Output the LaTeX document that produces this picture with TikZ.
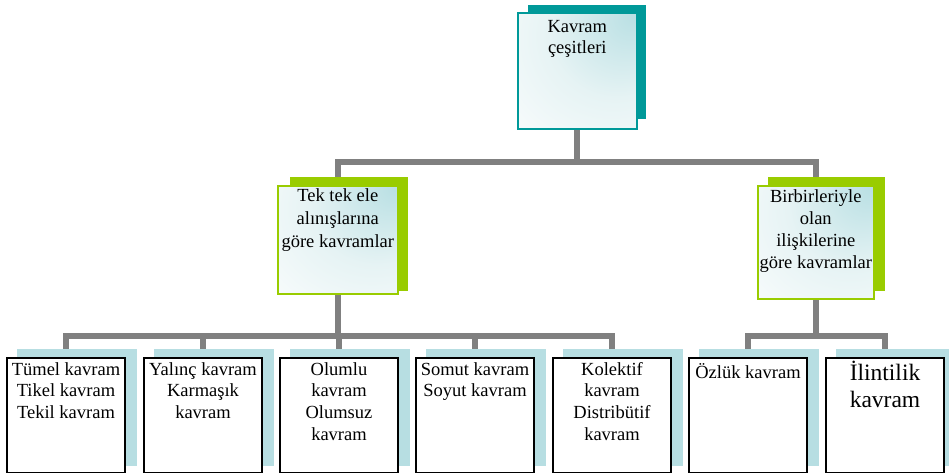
\documentclass[tikz,border=0pt]{standalone}
\usepackage{fontspec}
\setmainfont{Liberation Serif}
\definecolor{tealc}{RGB}{0,153,153}
\definecolor{greenc}{RGB}{153,204,0}
\definecolor{leafsh}{RGB}{183,222,226}
\definecolor{gradblue}{RGB}{184,223,227}
\definecolor{gradmid}{RGB}{230,243,244}
\definecolor{connc}{RGB}{128,128,128}
\pgfdeclareradialshading{cornerblue}{\pgfpoint{25bp}{25bp}}{color(0bp)=(gradblue); color(28bp)=(gradmid); color(60bp)=(white); color(80bp)=(white)}
\pgfdeclarelayer{bg}
\pgfdeclarelayer{sh}
\pgfsetlayers{bg,sh,main}
\newcommand{\firstln}{\rule{0pt}{16pt}}
\begin{document}
\begin{tikzpicture}[x=1pt,y=-1pt,
  box/.style={rectangle, inner sep=0pt, anchor=north west},
  grad/.style={shading=cornerblue},
  topbox/.style={box, grad, draw=tealc, line width=1.6pt},
  midbox/.style={box, grad, draw=greenc, line width=1.6pt},
  leafbox/.style={box, fill=white, draw=black, line width=2pt, minimum width=118pt, minimum height=115pt},
  txt/.style={anchor=north, inner sep=0pt, align=center, font=\fontsize{18.5}{21.7}\selectfont},
  conn/.style={draw=connc, line width=6pt},
]
\useasboundingbox (0,0) rectangle (949,473);

% boxes
\node[topbox, minimum width=119pt, minimum height=116pt] (top) at (517,12) {};
\node[midbox, minimum width=120pt, minimum height=108pt] (tek) at (277,185) {};
\node[midbox, minimum width=116pt, minimum height=113pt] (bir) at (757,185) {};
\foreach \i/\x in {1/6,2/143,3/279,4/415,5/552,6/688,7/825} {
  \node[leafbox] (l\i) at (\x,357) {};
}

% shadows
\begin{pgfonlayer}{sh}
\fill[tealc] (528,5) rectangle (646,119);
\fill[greenc] (290,177) rectangle (408,291);
\fill[greenc] (768,177) rectangle (885,291);
\foreach \i in {1,...,7} {
  \fill[leafsh] ([shift={(11pt,8pt)}]l\i.south west) rectangle ([shift={(11pt,8pt)}]l\i.north east);
}
\end{pgfonlayer}

% connectors
\begin{pgfonlayer}{bg}
\fill[white] (0,0) rectangle (949,473);
\coordinate (bus1) at (0,162);
\coordinate (bus2) at (0,336);
\draw[conn] (top.south) -- (top.south |- bus1) -| (tek.north);
\draw[conn] (top.south |- bus1) -| (bir.north);
\foreach \i in {1,...,5} {
  \draw[conn] (tek.south) -- (tek.south |- bus2) -| (l\i.north);
}
\foreach \i in {6,7} {
  \draw[conn] (bir.south) -- (bir.south |- bus2) -| (l\i.north);
}
\end{pgfonlayer}

% texts
\node[txt] (t0) at ([yshift=-4pt]top.north) {\firstln Kavram\\çeşitleri};
\node[txt, font=\fontsize{18.5}{23}\selectfont] (t1) at (tek.north) {\firstln Tek tek ele\\alınışlarına\\göre kavramlar};
\node[txt, font=\fontsize{18.5}{22}\selectfont] (t2) at ([yshift=-1pt]bir.north) {\firstln Birbirleriyle\\olan\\ilişkilerine\\göre kavramlar};
\node[txt] (tl1) at ([yshift=-2pt]l1.north) {\firstln Tümel kavram\\Tikel kavram\\Tekil kavram};
\node[txt] (tl2) at ([yshift=-2pt]l2.north) {\firstln Yalınç kavram\\Karmaşık\\kavram};
\node[txt] (tl3) at ([yshift=-2pt]l3.north) {\firstln Olumlu\\kavram\\Olumsuz\\kavram};
\node[txt] (tl4) at ([yshift=-2pt]l4.north) {\firstln Somut kavram\\Soyut kavram};
\node[txt] (tl5) at ([yshift=-2pt]l5.north) {\firstln Kolektif\\kavram\\Distribütif\\kavram};
\node[txt] (tl6) at ([yshift=-5pt]l6.north) {\firstln Özlük kavram};
\node[txt, font=\fontsize{23.5}{27}\selectfont] (tl7) at ([yshift=-2.5pt]l7.north) {\rule{0pt}{20.5pt}İlintilik\\kavram};
\end{tikzpicture}
\end{document}
